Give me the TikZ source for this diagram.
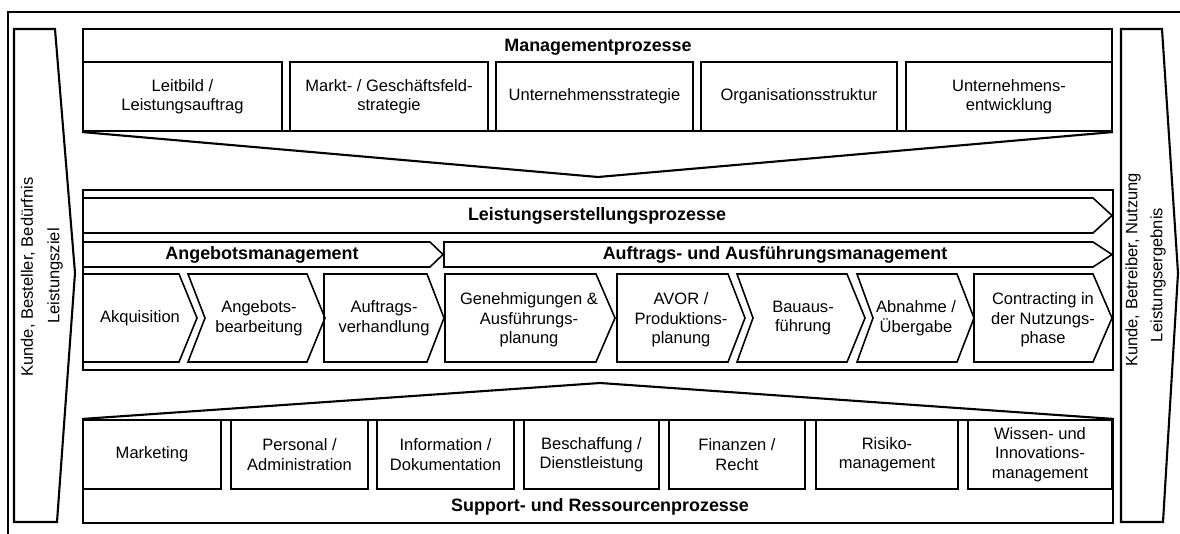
\documentclass[tikz,border=0pt]{standalone}
\usepackage{fontspec}
\setmainfont{Liberation Sans}
\tikzset{
    %Define standard text
    lbl/.style={font=\fontsize{9.4}{11.1}\selectfont, align=center},
    %Define style for headings
    heading/.style={font=\fontsize{10.2}{12}\selectfont\bfseries},
    %Define line styles
    thickline/.style={draw=black, line width=1.2pt, line join=miter},
    chev/.style={draw=black, line width=0.9pt, line join=miter},
    %Define style for frames
    frame/.style={rectangle, thickline, inner sep=0pt},
    %Define style for boxes
    procbox/.style={
           rectangle,
           draw=black, line width=0.9pt,
           inner sep=0pt,
           minimum height=1.38cm,
           lbl},
    sidetext/.style={lbl, rotate=90}
}

\begin{document}
\begin{tikzpicture}[x=0.02cm, y=-0.02cm]
\useasboundingbox (0,0) rectangle (1180,534);
\draw[chev] (1200,12) -- (8,12) -- (8,550);

% sides
\draw[thickline] (14,29) -- (55,29) -- (75,273) -- (57,522) -- (14,522) -- cycle;
\node[sidetext] (kundeL) at (28,277) {Kunde, Besteller, Bedürfnis};
\node[sidetext] (ziel) at (55,276) {Leistungsziel};
\draw[thickline] (1121,29) -- (1162,29) -- (1178,273) -- (1163,522) -- (1121,522) -- cycle;
\node[sidetext] (kundeR) at (1133,270) {Kunde, Betreiber, Nutzung};
\node[sidetext] (ergebnis) at (1158,275) {Leistungsergebnis};

% management
\node[frame, minimum width=20.58cm, minimum height=2.04cm] (mgmt) at (597.5,80) {};
\node[heading] (mgmtT) at (598,47) {Managementprozesse};
\node[procbox, minimum width=3.98cm] (leitbild) at (182.5,96.5) {Leitbild /\\Leistungsauftrag};
\node[procbox, minimum width=3.96cm] (markt) at (389,96.5) {Markt- / Geschäftsfeld-\\strategie};
\node[procbox, minimum width=3.94cm] (ustrat) at (594.5,96.5) {Unternehmensstrategie};
\node[procbox, minimum width=3.92cm] (orga) at (799,96.5) {Organisationsstruktur};
\node[procbox, minimum width=4.12cm] (uentw) at (1009,96.5) {Unternehmens-\\entwicklung};
\coordinate (mgmtTip) at (598,177);
\draw[thickline] (mgmt.south west) -- (mgmtTip) -- (mgmt.south east);

% leistungserstellung
\node[frame, minimum width=20.6cm, minimum height=3.6cm] (leist) at (598,280) {};
\draw[chev] (83,198) -- (1093,198) -- (1112,215.5) -- (1093,233) -- (83,233) -- cycle;
\node[heading] (leistT) at (597,216) {Leistungserstellungsprozesse};
\draw[chev] (83,242) -- (430,242) -- (443,254.5) -- (430,267) -- (83,267) -- cycle;
\node[heading] (angT) at (262,255) {Angebotsmanagement};
\draw[chev] (444,242) -- (1093,242) -- (1112,254.5) -- (1093,267) -- (444,267) -- cycle;
\node[heading] (aufT) at (775,255) {Auftrags- und Ausführungsmanagement};

\draw[chev] (83,274) -- (179,274) -- (197,318) -- (179,362) -- (83,362) -- cycle;
\node[lbl] (akq) at (140,318) {Akquisition};
\draw[chev] (188,274) -- (307,274) -- (325,318) -- (307,362) -- (188,362) -- (205,318) -- cycle;
\node[lbl] (angb) at (259,318) {Angebots-\\bearbeitung};
\draw[chev] (324,274) -- (427,274) -- (444,318) -- (427,362) -- (324,362) -- cycle;
\node[lbl] (verh) at (384,318) {Auftrags-\\verhandlung};
\draw[chev] (445,274) -- (596,274) -- (615,318) -- (596,362) -- (445,362) -- cycle;
\node[lbl] (gen) at (529,320) {Genehmigungen \&\\Ausführungs-\\planung};
\draw[chev] (617,274) -- (728,274) -- (745,318) -- (728,362) -- (617,362) -- cycle;
\node[lbl] (avor) at (681,320) {AVOR /\\Produktions-\\planung};
\draw[chev] (737,274) -- (847,274) -- (865,318) -- (847,362) -- (737,362) -- (753,318) -- cycle;
\node[lbl] (bau) at (803,318) {Bauaus-\\führung};
\draw[chev] (857,274) -- (957,274) -- (974,318) -- (957,362) -- (857,362) -- (873,318) -- cycle;
\node[lbl] (abn) at (916,318) {Abnahme /\\Übergabe};
\draw[chev] (974,274) -- (1093,274) -- (1112,318) -- (1093,362) -- (974,362) -- cycle;
\node[lbl] (contr) at (1043,320) {Contracting in\\der Nutzungs-\\phase};

% support
\node[frame, minimum width=20.6cm, minimum height=2.06cm] (supp) at (598,471.5) {};
\coordinate (suppTip) at (600,383);
\draw[thickline] (supp.north west) -- (suppTip) -- (supp.north east);
\node[procbox, minimum width=2.76cm] (mark) at (152,454.5) {Marketing};
\node[procbox, minimum width=2.74cm] (pers) at (299.5,454.5) {Personal /\\Administration};
\node[procbox, minimum width=2.74cm] (info) at (445.5,454.5) {Information /\\Dokumentation};
\node[procbox, minimum width=2.70cm] (besch) at (591.5,454.5) {Beschaffung /\\Dienstleistung};
\node[procbox, minimum width=2.72cm] (fin) at (737,454.5) {Finanzen /\\Recht};
\node[procbox, minimum width=2.84cm] (risk) at (887,454.5) {Risiko-\\management};
\node[procbox, minimum width=2.88cm] (wiss) at (1040,454.5) {Wissen- und\\Innovations-\\management};
\node[heading] (suppT) at (600,507) {Support- und Ressourcenprozesse};
\end{tikzpicture}
\end{document}
